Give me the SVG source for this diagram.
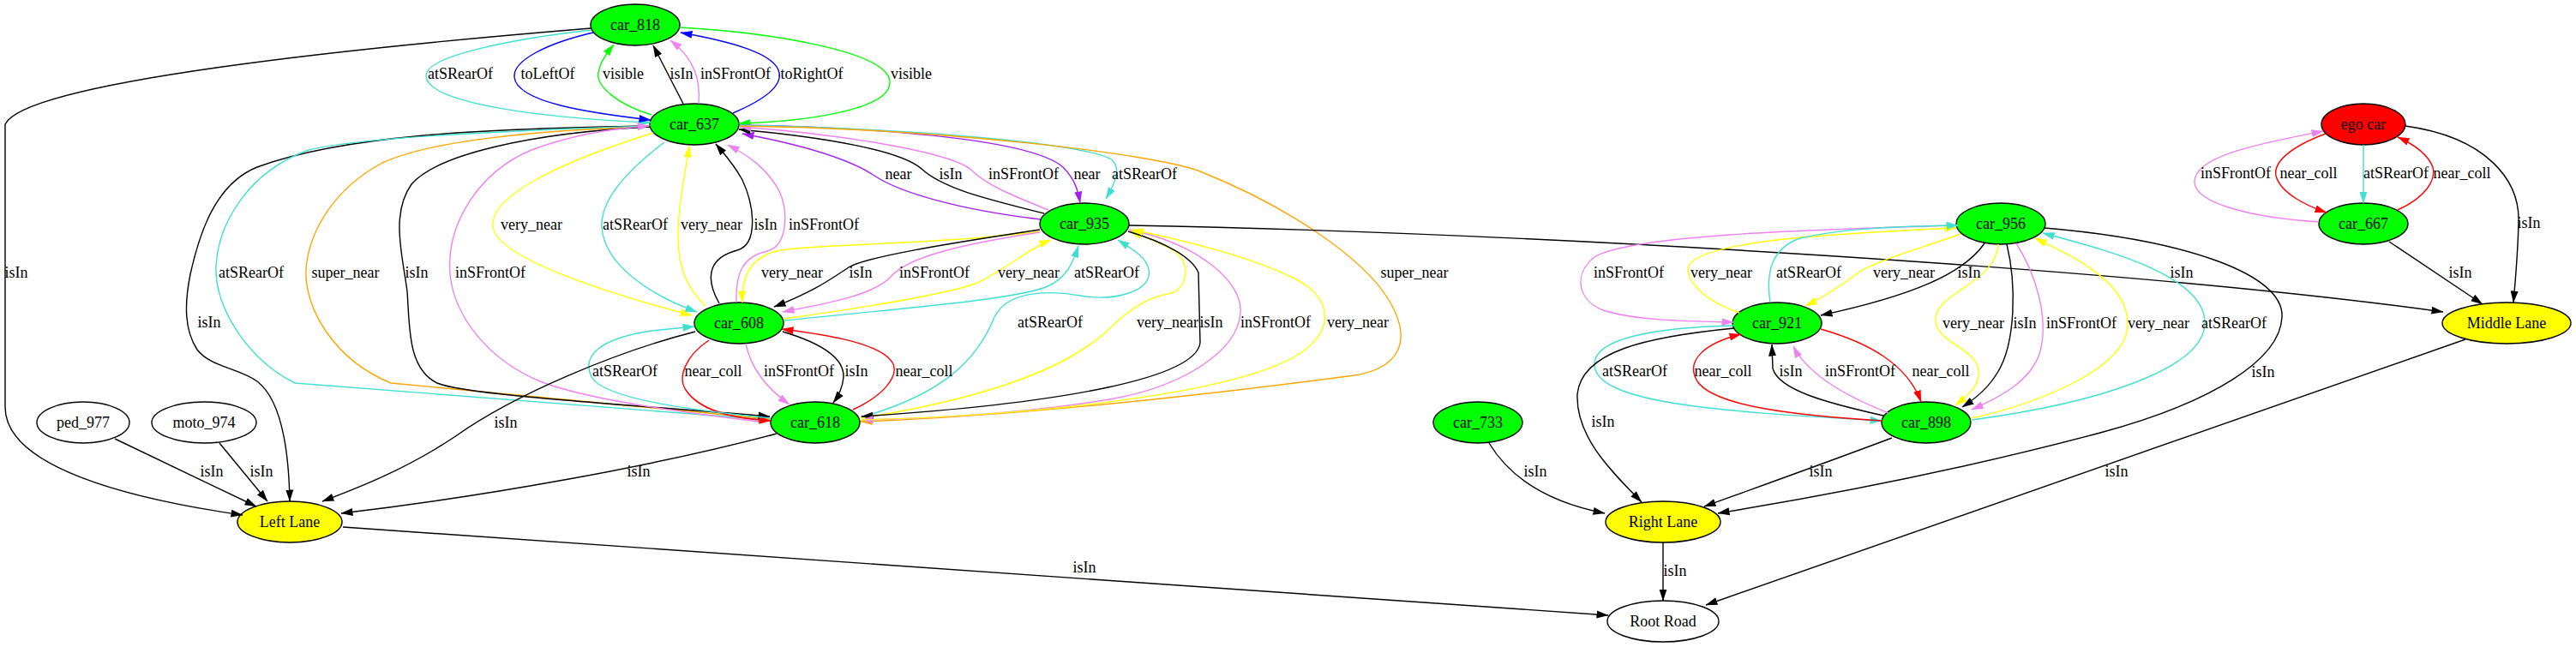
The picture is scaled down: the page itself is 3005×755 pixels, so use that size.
<svg xmlns="http://www.w3.org/2000/svg" width="3005" height="755" viewBox="0 0 3005 755">
<style>
text{font-family:"Liberation Serif","Times New Roman",serif;font-size:18px;text-anchor:middle;fill:#000}
.n ellipse{stroke:#000;stroke-width:1.4}
.g{fill:#00ff00}.y{fill:#ffff00}.w{fill:#fff}.r{fill:#ff0000}
.e{fill:none;stroke-width:1.4}
.k{stroke:#000}.t{stroke:#40e0d0}.b{stroke:#0000ff}.gr{stroke:#00ff00}.v{stroke:#ee82ee}.p{stroke:#a020f0}.yl{stroke:#ffff00}.o{stroke:#ffa500}.rd{stroke:#ff0000}
</style>
<defs>
<marker id="mk" viewBox="0 0 14 10" refX="13.5" refY="5" markerWidth="14" markerHeight="10" markerUnits="userSpaceOnUse" orient="auto"><path d="M0,0.5 L14,5 L0,9.5z" fill="#000"/></marker>
<marker id="mt" viewBox="0 0 14 10" refX="13.5" refY="5" markerWidth="14" markerHeight="10" markerUnits="userSpaceOnUse" orient="auto"><path d="M0,0.5 L14,5 L0,9.5z" fill="#40e0d0"/></marker>
<marker id="mb" viewBox="0 0 14 10" refX="13.5" refY="5" markerWidth="14" markerHeight="10" markerUnits="userSpaceOnUse" orient="auto"><path d="M0,0.5 L14,5 L0,9.5z" fill="#0000ff"/></marker>
<marker id="mg" viewBox="0 0 14 10" refX="13.5" refY="5" markerWidth="14" markerHeight="10" markerUnits="userSpaceOnUse" orient="auto"><path d="M0,0.5 L14,5 L0,9.5z" fill="#00ff00"/></marker>
<marker id="mv" viewBox="0 0 14 10" refX="13.5" refY="5" markerWidth="14" markerHeight="10" markerUnits="userSpaceOnUse" orient="auto"><path d="M0,0.5 L14,5 L0,9.5z" fill="#ee82ee"/></marker>
<marker id="mp" viewBox="0 0 14 10" refX="13.5" refY="5" markerWidth="14" markerHeight="10" markerUnits="userSpaceOnUse" orient="auto"><path d="M0,0.5 L14,5 L0,9.5z" fill="#a020f0"/></marker>
<marker id="my" viewBox="0 0 14 10" refX="13.5" refY="5" markerWidth="14" markerHeight="10" markerUnits="userSpaceOnUse" orient="auto"><path d="M0,0.5 L14,5 L0,9.5z" fill="#ffff00"/></marker>
<marker id="mo" viewBox="0 0 14 10" refX="13.5" refY="5" markerWidth="14" markerHeight="10" markerUnits="userSpaceOnUse" orient="auto"><path d="M0,0.5 L14,5 L0,9.5z" fill="#ffa500"/></marker>
<marker id="mr" viewBox="0 0 14 10" refX="13.5" refY="5" markerWidth="14" markerHeight="10" markerUnits="userSpaceOnUse" orient="auto"><path d="M0,0.5 L14,5 L0,9.5z" fill="#ff0000"/></marker>
</defs>
<rect width="3005" height="755" fill="#fff"/>

<g id="nodes">
<g id="car_818" class="n"><ellipse class="g" cx="741" cy="29" rx="52" ry="24"/><text x="741" y="35">car_818</text></g>
<g id="car_637" class="n"><ellipse class="g" cx="810" cy="145" rx="52" ry="24"/><text x="810" y="151">car_637</text></g>
<g id="car_935" class="n"><ellipse class="g" cx="1265" cy="261" rx="52" ry="24"/><text x="1265" y="267">car_935</text></g>
<g id="car_608" class="n"><ellipse class="g" cx="862" cy="377" rx="52" ry="24"/><text x="862" y="383">car_608</text></g>
<g id="car_618" class="n"><ellipse class="g" cx="951" cy="493" rx="52" ry="24"/><text x="951" y="499">car_618</text></g>
<g id="ped_977" class="n"><ellipse class="w" cx="97" cy="493" rx="54" ry="24"/><text x="97" y="499">ped_977</text></g>
<g id="moto_974" class="n"><ellipse class="w" cx="238" cy="493" rx="61" ry="24"/><text x="238" y="499">moto_974</text></g>
<g id="left_lane" class="n"><ellipse class="y" cx="338" cy="609" rx="61" ry="24"/><text x="338" y="615">Left Lane</text></g>
<g id="car_956" class="n"><ellipse class="g" cx="2334" cy="261" rx="52" ry="24"/><text x="2334" y="267">car_956</text></g>
<g id="car_921" class="n"><ellipse class="g" cx="2073" cy="377" rx="52" ry="24"/><text x="2073" y="383">car_921</text></g>
<g id="car_898" class="n"><ellipse class="g" cx="2247" cy="493" rx="52" ry="24"/><text x="2247" y="499">car_898</text></g>
<g id="car_733" class="n"><ellipse class="g" cx="1724" cy="493" rx="52" ry="24"/><text x="1724" y="499">car_733</text></g>
<g id="right_lane" class="n"><ellipse class="y" cx="1940" cy="609" rx="67" ry="24"/><text x="1940" y="615">Right Lane</text></g>
<g id="root_road" class="n"><ellipse class="w" cx="1940" cy="725" rx="65" ry="24"/><text x="1940" y="731">Root Road</text></g>
<g id="ego_car" class="n"><ellipse class="r" cx="2757" cy="145" rx="49" ry="24"/><text x="2757" y="151">ego car</text></g>
<g id="car_667" class="n"><ellipse class="g" cx="2757" cy="261" rx="52" ry="24"/><text x="2757" y="267">car_667</text></g>
<g id="middle_lane" class="n"><ellipse class="y" cx="2924" cy="377" rx="75" ry="24"/><text x="2924" y="383">Middle Lane</text></g>
</g>

<g id="connectors">
<!-- car_818 / car_637 -->
<path class="e k" marker-end="url(#mk)" d="M689,33 C420,55 30,95 6,145 L6,475 C6,545 150,582 283,601"/>
<path class="e t" marker-end="url(#mt)" d="M690,35 C600,45 497,65 497,88 C497,122 640,138 759,143"/>
<path class="e b" marker-end="url(#mb)" d="M692,38 C640,50 598,70 600,90 C603,120 690,132 759,140"/>
<path class="e gr" marker-end="url(#mg)" d="M760,134 C720,122 695,100 698,85 C700,72 708,62 716,52"/>
<path class="e k" marker-end="url(#mk)" d="M797,121 L762,53"/>
<path class="e v" marker-end="url(#mv)" d="M815,121 C817,95 812,70 782,47"/>
<path class="e b" marker-end="url(#mb)" d="M855,132 C895,115 912,100 909,85 C905,62 850,48 794,38"/>
<path class="e gr" marker-end="url(#mg)" d="M793,32 C900,38 1035,60 1038,95 C1040,130 930,142 862,144"/>
<!-- car_637 left long edges -->
<path class="e k" marker-end="url(#mk)" d="M759,147 C560,150 400,158 300,195 C250,215 232,275 222,320 C215,355 215,385 230,408 C245,428 280,430 300,445 C330,468 337,530 338,585"/>
<path class="e t" marker-end="url(#mt)" d="M759,147 C600,152 420,160 360,175 C290,200 255,260 252,310 C250,360 290,420 344,447 L898,490"/>
<path class="e o" marker-end="url(#mo)" d="M759,148 C620,152 500,165 446,190 C390,220 360,270 357,315 C355,360 390,420 456,447 L898,489"/>
<path class="e k" marker-end="url(#mk)" d="M759,148 C620,155 510,180 480,215 C455,250 470,300 475,340 C478,380 475,430 510,447 C540,460 700,470 898,486"/>
<path class="e v" marker-end="url(#mv)" d="M886,492 C800,482 680,465 630,445 C570,420 530,370 525,320 C520,260 560,200 620,175 C660,160 710,150 757,147"/>
<!-- car_637 / car_608 -->
<path class="e yl" marker-end="url(#my)" d="M762,155 C650,190 570,230 575,265 C580,300 700,340 807,368"/>
<path class="e t" marker-end="url(#mt)" d="M775,166 C730,200 700,235 702,265 C705,310 760,345 813,364"/>
<path class="e yl" marker-end="url(#my)" d="M823,357 C800,335 790,310 791,270 C792,230 800,200 804,170"/>
<path class="e k" marker-end="url(#mk)" d="M839,354 C820,320 830,300 860,292 C885,285 880,240 866,210 C855,190 845,180 835,168"/>
<path class="e v" marker-end="url(#mv)" d="M859,353 C858,320 865,300 895,293 C918,287 920,250 910,225 C895,195 870,180 849,169"/>
<!-- car_637 / car_935 -->
<path class="e p" marker-end="url(#mp)" d="M1214,256 C1120,245 1050,225 1020,205 C990,185 930,168 866,156"/>
<path class="e k" marker-end="url(#mk)" d="M1218,249 C1150,232 1100,220 1075,197 C1050,175 960,160 862,151"/>
<path class="e v" marker-end="url(#mv)" d="M1223,245 C1180,228 1150,215 1135,200 C1110,175 960,155 863,148"/>
<path class="e p" marker-end="url(#mp)" d="M863,146 C1000,148 1200,160 1240,195 C1255,210 1258,225 1260,237"/>
<path class="e t" marker-end="url(#mt)" d="M863,146 C1050,150 1250,165 1295,185 C1310,195 1300,215 1290,232"/>
<path class="e o" marker-end="url(#mo)" d="M863,147 C1100,150 1350,180 1400,200 C1500,240 1590,300 1620,350 C1650,400 1630,430 1580,438 C1450,455 1200,485 1004,492"/>
<!-- car_935 / car_608 -->
<path class="e yl" marker-end="url(#my)" d="M1213,270 C1100,285 950,285 910,292 C870,300 865,330 866,353"/>
<path class="e k" marker-end="url(#mk)" d="M1213,268 C1100,285 1010,300 990,312 C970,325 950,340 903,358"/>
<path class="e v" marker-end="url(#mv)" d="M1213,271 C1120,285 1060,300 1040,322 C1020,345 960,355 913,364"/>
<path class="e yl" marker-end="url(#my)" d="M914,372 C1000,360 1100,345 1140,330 C1180,310 1200,290 1226,280"/>
<path class="e t" marker-end="url(#mt)" d="M914,374 C1050,360 1180,350 1220,335 C1245,325 1252,305 1258,287"/>
<!-- car_618 / car_935 -->
<path class="e t" marker-end="url(#mt)" d="M1004,487 C1100,460 1140,420 1160,370 C1175,340 1220,338 1260,345 C1300,352 1345,340 1340,315 C1338,300 1320,290 1304,280"/>
<path class="e yl" marker-end="url(#my)" d="M1004,488 C1150,465 1250,430 1300,378 C1330,350 1350,345 1367,342 C1385,335 1392,305 1365,290 C1350,282 1335,276 1318,270"/>
<path class="e k" marker-end="url(#mk)" d="M1316,270 C1360,283 1390,300 1398,318 L1400,400 C1395,440 1250,470 1005,486"/>
<path class="e v" marker-end="url(#mv)" d="M1317,268 C1400,285 1450,330 1447,365 C1444,410 1380,450 1300,465 C1200,482 1100,488 1005,490"/>
<path class="e yl" marker-end="url(#my)" d="M1004,490 C1200,485 1450,460 1520,410 C1560,380 1550,345 1510,325 C1460,300 1380,280 1320,268"/>
<!-- car_608 / car_618 -->
<path class="e rd" marker-end="url(#mr)" d="M827,397 C800,415 790,440 800,455 C815,478 850,488 899,491"/>
<path class="e v" marker-end="url(#mv)" d="M870,401 C875,425 890,450 921,472"/>
<path class="e k" marker-end="url(#mk)" d="M913,387 C950,398 985,415 984,440 C983,452 978,462 972,470"/>
<path class="e rd" marker-end="url(#mr)" d="M995,478 C1030,462 1048,440 1042,425 C1030,400 960,390 912,384"/>
<path class="e t" marker-end="url(#mt)" d="M899,488 C800,478 705,465 690,440 C678,415 700,395 760,386 L810,381"/>
<!-- lanes left -->
<path class="e k" marker-end="url(#mk)" d="M811,387 C720,410 600,460 530,510 C470,550 410,572 376,585"/>
<path class="e k" marker-end="url(#mk)" d="M906,506 C760,545 560,580 398,599"/>
<path class="e k" marker-end="url(#mk)" d="M134,512 L299,591"/>
<path class="e k" marker-end="url(#mk)" d="M256,517 L312,585"/>
<path class="e k" marker-end="url(#mk)" d="M400,615 L1876,718"/>
<path class="e k" marker-end="url(#mk)" d="M1317,263 C1800,272 2500,315 2850,364"/>
<!-- car_956 / car_921 -->
<path class="e v" marker-end="url(#mv)" d="M2283,263 C2100,268 1900,275 1860,300 C1835,320 1840,350 1870,362 C1910,375 1980,375 2022,376"/>
<path class="e yl" marker-end="url(#my)" d="M2029,365 C1985,350 1965,325 1970,310 C1985,280 2150,272 2282,266"/>
<path class="e t" marker-end="url(#mt)" d="M2065,353 C2060,320 2065,290 2100,278 C2150,266 2220,264 2284,263"/>
<path class="e yl" marker-end="url(#my)" d="M2287,273 C2240,290 2185,305 2165,320 C2140,340 2120,350 2106,357"/>
<path class="e k" marker-end="url(#mk)" d="M2315,284 C2290,320 2230,345 2124,368"/>
<!-- car_921 / car_898 -->
<path class="e t" marker-end="url(#mt)" d="M2023,380 C1930,382 1860,395 1860,425 C1860,470 2000,480 2195,491"/>
<path class="e rd" marker-end="url(#mr)" d="M2195,491 C2100,485 2000,475 1980,445 C1965,420 1990,400 2031,390"/>
<path class="e k" marker-end="url(#mk)" d="M2197,485 C2130,470 2075,455 2068,430 L2067,402"/>
<path class="e v" marker-end="url(#mv)" d="M2203,482 C2160,465 2110,440 2092,404"/>
<path class="e rd" marker-end="url(#mr)" d="M2124,384 C2180,400 2225,425 2241,469"/>
<!-- car_956 / car_898 -->
<path class="e yl" marker-end="url(#my)" d="M2331,285 C2328,330 2262,340 2258,370 C2255,400 2305,405 2308,432 C2310,450 2295,462 2281,473"/>
<path class="e k" marker-end="url(#mk)" d="M2341,285 C2352,330 2352,400 2330,435 C2318,455 2300,468 2289,475"/>
<path class="e v" marker-end="url(#mv)" d="M2352,284 C2375,320 2390,370 2380,410 C2370,445 2330,465 2300,478"/>
<path class="e yl" marker-end="url(#my)" d="M2300,488 C2380,470 2480,430 2482,380 C2484,330 2420,300 2374,278"/>
<path class="e t" marker-end="url(#mt)" d="M2300,490 C2450,470 2570,430 2572,378 C2574,320 2450,290 2383,272"/>
<!-- right lanes -->
<path class="e k" marker-end="url(#mk)" d="M2385,266 C2550,280 2665,320 2662,370 C2660,420 2580,470 2450,505 C2300,545 2150,575 2004,599"/>
<path class="e k" marker-end="url(#mk)" d="M2207,511 C2130,540 2060,565 1988,591"/>
<path class="e k" marker-end="url(#mk)" d="M2023,383 C1920,393 1845,410 1840,460 C1838,510 1880,550 1915,586"/>
<path class="e k" marker-end="url(#mk)" d="M1737,517 C1760,555 1800,585 1872,599"/>
<path class="e k" marker-end="url(#mk)" d="M1940,633 L1940,701"/>
<path class="e k" marker-end="url(#mk)" d="M2876,396 L1990,706"/>
<!-- ego cluster -->
<path class="e v" marker-end="url(#mv)" d="M2705,259 C2640,255 2560,240 2560,212 C2560,180 2650,165 2710,153"/>
<path class="e rd" marker-end="url(#mr)" d="M2713,156 C2670,172 2652,190 2655,205 C2660,225 2690,240 2714,248"/>
<path class="e t" marker-end="url(#mt)" d="M2757,169 L2757,237"/>
<path class="e rd" marker-end="url(#mr)" d="M2797,245 C2830,230 2842,210 2838,195 C2832,180 2815,168 2797,160"/>
<path class="e k" marker-end="url(#mk)" d="M2806,147 C2900,160 2940,210 2938,260 C2937,300 2934,330 2932,353"/>
<path class="e k" marker-end="url(#mk)" d="M2787,282 L2896,355"/>
</g>

<g id="edge-labels">
<text x="537" y="92">atSRearOf</text>
<text x="639" y="92">toLeftOf</text>
<text x="727" y="92">visible</text>
<text x="795" y="92">isIn</text>
<text x="858" y="92">inSFrontOf</text>
<text x="947" y="92">toRightOf</text>
<text x="1063" y="92">visible</text>
<text x="19" y="324">isIn</text>
<text x="293" y="324">atSRearOf</text>
<text x="403" y="324">super_near</text>
<text x="486" y="324">isIn</text>
<text x="572" y="324">inSFrontOf</text>
<text x="244" y="382">isIn</text>
<text x="620" y="268">very_near</text>
<text x="741" y="268">atSRearOf</text>
<text x="830" y="268">very_near</text>
<text x="893" y="268">isIn</text>
<text x="961" y="268">inSFrontOf</text>
<text x="1048" y="209">near</text>
<text x="1109" y="209">isIn</text>
<text x="1194" y="209">inSFrontOf</text>
<text x="1268" y="209">near</text>
<text x="1335" y="209">atSRearOf</text>
<text x="924" y="324">very_near</text>
<text x="1004" y="324">isIn</text>
<text x="1090" y="324">inSFrontOf</text>
<text x="1200" y="324">very_near</text>
<text x="1291" y="324">atSRearOf</text>
<text x="1650" y="324">super_near</text>
<text x="1225" y="382">atSRearOf</text>
<text x="1362" y="382">very_near</text>
<text x="1413" y="382">isIn</text>
<text x="1488" y="382">inSFrontOf</text>
<text x="1584" y="382">very_near</text>
<text x="729" y="439">atSRearOf</text>
<text x="832" y="439">near_coll</text>
<text x="932" y="439">inSFrontOf</text>
<text x="999" y="439">isIn</text>
<text x="1078" y="439">near_coll</text>
<text x="590" y="499">isIn</text>
<text x="745" y="556">isIn</text>
<text x="247" y="556">isIn</text>
<text x="305" y="556">isIn</text>
<text x="1265" y="668">isIn</text>
<text x="1900" y="324">inSFrontOf</text>
<text x="2008" y="324">very_near</text>
<text x="2110" y="324">atSRearOf</text>
<text x="2221" y="324">very_near</text>
<text x="2297" y="324">isIn</text>
<text x="2545" y="324">isIn</text>
<text x="2302" y="383">very_near</text>
<text x="2362" y="383">isIn</text>
<text x="2428" y="383">inSFrontOf</text>
<text x="2518" y="383">very_near</text>
<text x="2606" y="383">atSRearOf</text>
<text x="1907" y="439">atSRearOf</text>
<text x="2010" y="439">near_coll</text>
<text x="2089" y="439">isIn</text>
<text x="2170" y="439">inSFrontOf</text>
<text x="2264" y="439">near_coll</text>
<text x="2640" y="440">isIn</text>
<text x="1870" y="498">isIn</text>
<text x="1791" y="556">isIn</text>
<text x="2124" y="556">isIn</text>
<text x="1954" y="672">isIn</text>
<text x="2469" y="556">isIn</text>
<text x="2608" y="208">inSFrontOf</text>
<text x="2693" y="208">near_coll</text>
<text x="2795" y="208">atSRearOf</text>
<text x="2872" y="208">near_coll</text>
<text x="2950" y="266">isIn</text>
<text x="2870" y="324">isIn</text>
</g>
</svg>
